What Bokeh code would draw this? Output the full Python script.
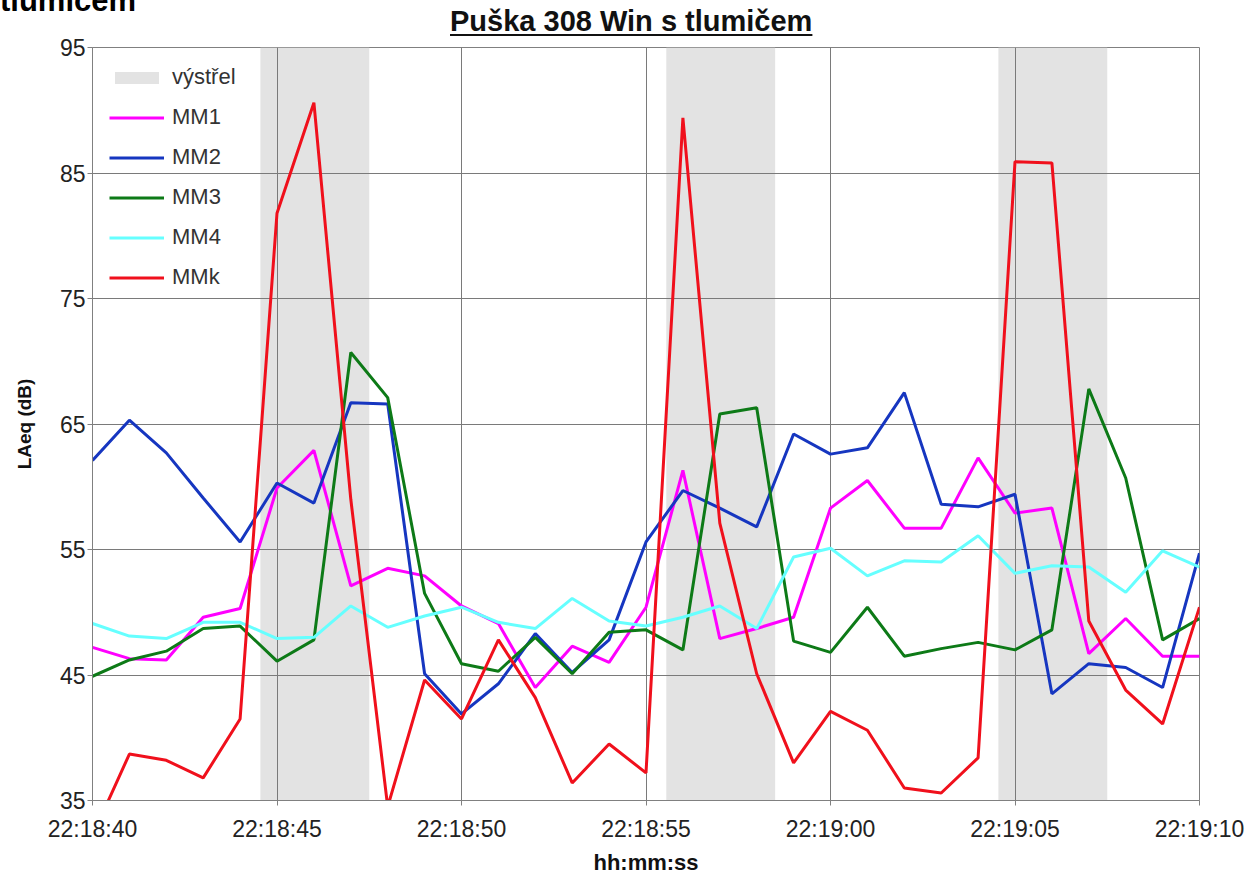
import pandas as pd
from bokeh.plotting import figure
from bokeh.models import (Range1d, FixedTicker, DatetimeTickFormatter, Legend, LegendItem,
                          ColumnDataSource, Div)
from bokeh.layouts import column
from bokeh.embed import file_html
from bokeh.resources import INLINE

# ---------------- data ----------------
times = ["22:18:40", "22:18:41", "22:18:42", "22:18:43", "22:18:44", "22:18:45", "22:18:46",
         "22:18:47", "22:18:48", "22:18:49", "22:18:50", "22:18:51", "22:18:52", "22:18:53",
         "22:18:54", "22:18:55", "22:18:56", "22:18:57", "22:18:58", "22:18:59", "22:19:00",
         "22:19:01", "22:19:02", "22:19:03", "22:19:04", "22:19:05", "22:19:06", "22:19:07",
         "22:19:08", "22:19:09", "22:19:10"]

mm1 = [47.2, 46.3, 46.2, 49.6, 50.3, 59.9, 62.9, 52.1, 53.5, 52.9, 50.5, 49.1, 44.0, 47.3,
       46.0, 50.4, 61.3, 47.9, 48.7, 49.6, 58.3, 60.5, 56.7, 56.7, 62.3, 57.9, 58.3, 46.7,
       49.5, 46.5, 46.5]
mm2 = [62.1, 65.3, 62.7, 59.1, 55.6, 60.3, 58.7, 66.7, 66.6, 45.1, 41.9, 44.3, 48.3, 45.2,
       47.8, 55.6, 59.7, 58.3, 56.8, 64.2, 62.6, 63.1, 67.5, 58.6, 58.4, 59.4, 43.5, 45.9,
       45.6, 44.0, 54.7]
mm3 = [44.9, 46.2, 46.9, 48.7, 48.9, 46.1, 47.8, 70.7, 67.1, 51.5, 45.9, 45.3, 48.0, 45.1,
       48.4, 48.6, 47.0, 65.8, 66.3, 47.7, 46.8, 50.4, 46.5, 47.1, 47.6, 47.0, 48.6, 67.8,
       60.7, 47.8, 49.5]
mm4 = [49.1, 48.1, 47.9, 49.2, 49.2, 47.9, 48.0, 50.5, 48.8, 49.7, 50.4, 49.2, 48.7, 51.1,
       49.3, 48.9, 49.6, 50.5, 48.7, 54.4, 55.1, 52.9, 54.1, 54.0, 56.1, 53.1, 53.7, 53.6,
       51.6, 54.9, 53.6]
mmk = [32.2, 38.7, 38.2, 36.8, 41.5, 81.8, 90.6, 59.0, 34.5, 44.6, 41.5, 47.8, 43.2, 36.4,
       39.5, 37.2, 89.4, 57.1, 45.1, 38.0, 42.1, 40.6, 36.0, 35.6, 38.4, 85.9, 85.8, 49.3,
       43.8, 41.1, 50.4]

series_names = ["MM1", "MM2", "MM3", "MM4", "MMk"]
series_colors = ["#ff00ff", "#1636c0", "#0d7a17", "#66ffff", "#f0101c"]

# shot ("výstřel") intervals
shot_start = ["22:18:44.55", "22:18:55.55", "22:19:04.55"]
shot_end = ["22:18:47.50", "22:18:58.50", "22:19:07.50"]

tick_labels = ["22:18:40", "22:18:45", "22:18:50", "22:18:55", "22:19:00", "22:19:05", "22:19:10"]
y_ticks = [35, 45, 55, 65, 75, 85, 95]

title_text = "Puška 308 Win s tlumičem"
title_fragment = "tlumičem"

# ---------------- helpers ----------------
def to_ms(lst):
    return [pd.Timestamp("2010-01-01 " + s).value / 1e6 for s in lst]

x = pd.to_datetime(["2010-01-01 " + t for t in times])
tick_ms = to_ms(tick_labels)

FONT = "Liberation Sans"
W = 1246
HEAD_H = 30

head = Div(
    text=(f'<div style="position:relative;width:{W}px;height:{HEAD_H}px;overflow:visible;z-index:5;">'
          f'<span style="position:absolute;left:0px;top:-14px;font-family:\'{FONT}\';'
          f'font-weight:bold;font-size:31px;line-height:30px;color:#000;white-space:nowrap;">'
          f'{title_fragment}</span>'
          f'<span style="position:absolute;left:450px;top:6px;font-family:\'{FONT}\';'
          f'font-weight:bold;font-size:29px;line-height:30px;color:#111;white-space:nowrap;'
          f'text-decoration:underline;text-decoration-thickness:2px;text-underline-offset:3px;">'
          f'{title_text}</span></div>'),
    width=W, height=HEAD_H, margin=0, styles={"overflow": "visible", "z-index": "5"})

p = figure(frame_width=1107, frame_height=753, output_backend="svg", toolbar_location=None,
           x_axis_type="datetime",
           x_range=Range1d(tick_ms[0], tick_ms[-1]),
           y_range=Range1d(y_ticks[0], y_ticks[-1]),
           min_border_left=92, min_border_right=47, min_border_top=17,
           min_border_bottom=70, margin=0)
p.background_fill_color = "white"
p.border_fill_alpha = 0
p.outline_line_color = "#808080"
p.outline_line_width = 1

# shaded shot bands
band_src = ColumnDataSource(dict(left=to_ms(shot_start), right=to_ms(shot_end),
                                 bottom=[y_ticks[0]] * len(shot_start),
                                 top=[y_ticks[-1]] * len(shot_start)))
bands = p.quad(left="left", right="right", bottom="bottom", top="top", source=band_src,
               fill_color="#e3e3e3", line_color=None, level="underlay")

# grid
p.xgrid.ticker = FixedTicker(ticks=tick_ms)
p.ygrid.ticker = FixedTicker(ticks=y_ticks)
for g in (p.xgrid, p.ygrid):
    g.grid_line_color = "#7a7a7a"
    g.grid_line_width = 1
    g.level = "underlay"

# lines
renderers = []
for name, vals, col in zip(series_names, [mm1, mm2, mm3, mm4, mmk], series_colors):
    r = p.line(x, vals, line_color=col, line_width=3)
    renderers.append(r)

# axes
p.xaxis.ticker = FixedTicker(ticks=tick_ms)
p.xaxis.formatter = DatetimeTickFormatter(seconds="%H:%M:%S", minsec="%H:%M:%S",
                                          minutes="%H:%M:%S", milliseconds="%H:%M:%S",
                                          hourmin="%H:%M:%S", hours="%H:%M:%S")
p.yaxis.ticker = FixedTicker(ticks=y_ticks)
for ax in (p.xaxis[0], p.yaxis[0]):
    ax.axis_line_color = "#808080"
    ax.major_tick_line_color = "#808080"
    ax.major_tick_out = 5
    ax.major_tick_in = 0
    ax.minor_tick_line_color = None
    ax.major_label_text_font = FONT
    ax.major_label_text_font_size = "23px"
    ax.major_label_text_color = "#222222"
    ax.axis_label_text_font = FONT
    ax.axis_label_text_font_style = "bold"
    ax.axis_label_text_color = "#111111"
p.xaxis.axis_label_text_font_size = "22px"
p.yaxis.axis_label_text_font_size = "19px"
p.xaxis.major_label_standoff = 10
p.xaxis.axis_label = "hh:mm:ss"
p.xaxis.axis_label_standoff = 5
p.yaxis.axis_label = "LAeq (dB)"
p.yaxis.major_label_standoff = 2
p.yaxis.axis_label_standoff = 22

# legend
legend = Legend(items=[LegendItem(label="výstřel", renderers=[bands])] +
                [LegendItem(label=n, renderers=[r]) for n, r in zip(series_names, renderers)],
                location="top_left")
legend.background_fill_alpha = 0
legend.border_line_alpha = 0
legend.label_text_font = FONT
legend.label_text_font_size = "22px"
legend.label_text_color = "#333333"
legend.glyph_width = 55
legend.glyph_height = 15
legend.label_height = 25
legend.spacing = 14
legend.label_standoff = 8
legend.margin = 8
legend.padding = 9
p.add_layout(legend)

layout = column(head, p, spacing=0)
open("out.html", "w").write(file_html(layout, INLINE))
